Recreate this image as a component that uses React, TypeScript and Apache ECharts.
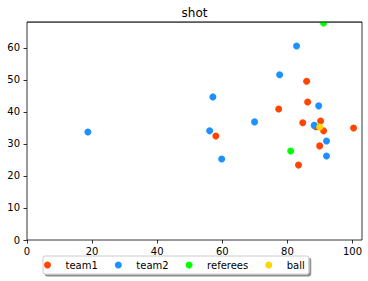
import React, { useEffect, useRef } from "react";
import * as echarts from "echarts";

const seriesNames = ["team1", "team2", "referees", "ball"];
const seriesColors = ["#FF4500", "#1E90FF", "#00FF00", "#FFD700"];

const team1: number[][] = [
  [58.0, 32.5], [77.3, 40.9], [85.9, 49.6], [86.2, 43.1], [84.7, 36.6],
  [90.2, 37.2], [91.1, 34.1], [100.3, 35.0], [89.9, 29.4], [83.4, 23.4],
  [88.7, 35.4],
];
const team2: number[][] = [
  [18.7, 33.75], [57.1, 44.7], [56.1, 34.1], [69.9, 36.9], [77.6, 51.6],
  [82.8, 60.6], [89.6, 41.9], [88.2, 35.8], [59.8, 25.3], [92.0, 30.9],
  [92.0, 26.25],
];
const referees: number[][] = [[81.0, 27.8], [91.1, 67.8]];
const ball: number[][] = [[89.9, 35.3]];

const xTicks = [0, 20, 40, 60, 80, 100];
const yTicks = [0, 10, 20, 30, 40, 50, 60];
const titleText = "shot";

export default function App() {
  const ref = useRef<HTMLDivElement>(null);
  useEffect(() => {
    document.body.style.margin = "0";
    if (!ref.current) return;
    const chart = echarts.init(ref.current, undefined, { renderer: "svg" });
    const font = "DejaVu Sans";
    const allData = [team1, team2, referees, ball];
    const gLeft = 27, gRight = 6, gTop = 22, gBottom = 41;
    const W = 368;
    chart.setOption({
      animation: false,
      backgroundColor: "#fff",
      grid: {
        left: gLeft,
        right: gRight,
        top: gTop,
        bottom: gBottom,
        show: true,
        borderColor: "#000",
        borderWidth: 0.8,
        backgroundColor: "transparent",
      },
      graphic: [
        {
          type: "rect",
          z: 100,
          silent: true,
          shape: { x: gLeft - 4, y: 0, width: W - gLeft - gRight + 8, height: gTop - 0.4 },
          style: { fill: "#fff" },
        },
        {
          type: "line",
          z: 101,
          silent: true,
          shape: { x1: gLeft, y1: gTop, x2: W - gRight, y2: gTop },
          style: { stroke: "#000", lineWidth: 0.8 },
        },
        {
          type: "text",
          z: 102,
          x: 194.5,
          y: 13,
          style: {
            text: titleText,
            font: `12px "${font}"`,
            fill: "#000",
            align: "center",
            verticalAlign: "middle",
          },
        },
      ],
      legend: {
        data: seriesNames,
        left: 43,
        top: 256,
        orient: "horizontal",
        icon: "circle",
        itemWidth: 26,
        itemHeight: 7,
        itemGap: 17,
        selectedMode: false,
        padding: [3, 4, 3, 1],
        backgroundColor: "#fff",
        borderColor: "#ccc",
        borderWidth: 1,
        borderRadius: 2,
        shadowColor: "rgba(0,0,0,0.45)",
        shadowBlur: 0,
        shadowOffsetX: 2,
        shadowOffsetY: 2,
        textStyle: { fontFamily: font, fontSize: 10, color: "#000", lineHeight: 12 },
      },
      xAxis: {
        type: "value",
        min: 0,
        max: 102.9,
        interval: 20,
        splitLine: { show: false },
        axisLine: { show: false },
        axisTick: {
          show: true,
          inside: false,
          length: 3.5,
          customValues: xTicks,
          lineStyle: { color: "#000", width: 0.8 },
        },
        axisLabel: {
          customValues: xTicks,
          margin: 6,
          fontFamily: font,
          fontSize: 10,
          color: "#000",
        },
      },
      yAxis: {
        type: "value",
        min: 0,
        max: 68.1,
        interval: 10,
        splitLine: { show: false },
        axisLine: { show: false },
        axisTick: {
          show: true,
          inside: false,
          length: 3.5,
          customValues: yTicks,
          lineStyle: { color: "#000", width: 0.8 },
        },
        axisLabel: {
          customValues: yTicks,
          margin: 7,
          fontFamily: font,
          fontSize: 10,
          color: "#000",
        },
      },
      series: seriesNames.map((name, i) => ({
        name,
        type: "scatter",
        data: allData[i],
        symbol: "circle",
        symbolSize: 7,
        clip: true,
        itemStyle: { color: seriesColors[i], opacity: 1 },
        emphasis: { disabled: true },
        z: 2 + i,
      })),
    });
    return () => chart.dispose();
  }, []);
  return <div ref={ref} style={{ width: 368, height: 281 }} />;
}
